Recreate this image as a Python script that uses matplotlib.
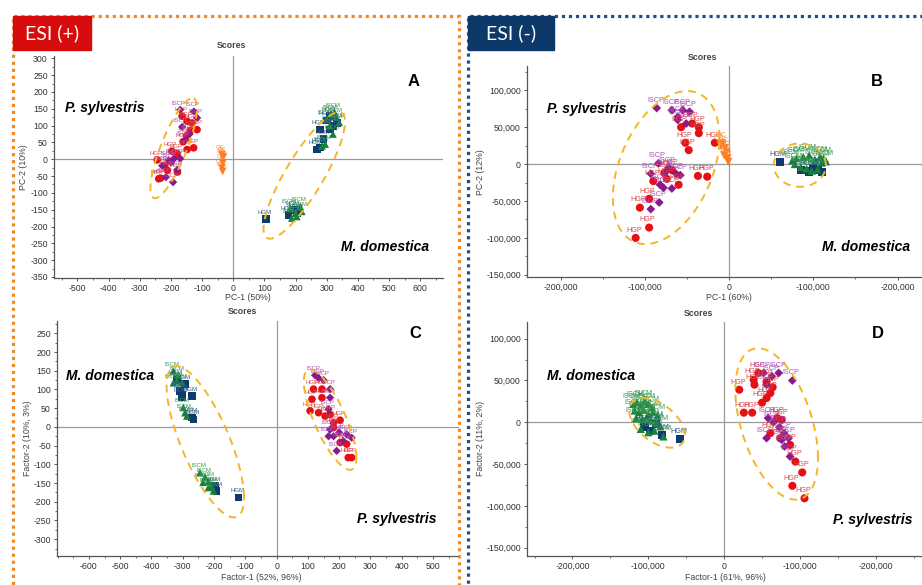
"""
Score plots (PCA / factor) of ESI(+) and ESI(-) data, four panels A-D.
"""

import numpy as np
import matplotlib
matplotlib.use("Agg")
import matplotlib.pyplot as plt
from matplotlib.patches import Rectangle
from matplotlib.ticker import AutoMinorLocator

plt.rcParams["font.family"] = ["Liberation Sans", "DejaVu Sans"]
plt.rcParams["axes.unicode_minus"] = False

# ---- panel A (ESI+, PCA) ----
A_HGP_x = [-132, -138, -161, -148, -127, -197, -180, -239, -233, -211, -179, -244, -164, -148, -116, -150, -220]
A_HGP_y = [108, 86, 52, 29, 34, 24, 17, -58, -56, -33, -38, -2, 128, 113, 88, 70, -20]
A_ISCP_x = [-164, -116, -216, -193, -180, -207, -190, -170, -228, -154, -170, -126, -200, -140]
A_ISCP_y = [96, 123, -53, -68, -32, -4, 2, 2, -19, 58, 147, 142, -10, 75]
A_QC_x = [-36, -33, -33, -36, -34, -32]
A_QC_y = [14, 4, -11, -26, -36, 8]
A_HGM_x = [279, 311, 322, 268, 278, 332, 311, 105, 177, 205, 195, 290, 300]
A_HGM_y = [88, 88, 98, 29, 35, 108, 129, -177, -165, -160, -150, 60, 115]
A_ISCM_x = [315, 330, 340, 300, 325, 310, 320, 285, 295, 188, 204, 220, 215, 183, 200]
A_ISCM_y = [135, 125, 110, 120, 140, 100, 75, 40, 45, -175, -170, -155, -140, -145, -160]

# ---- panel B (ESI-, PCA), values in thousands ----
B_HGP_x = [-57, -36, -36, -52, -48, -17, -37, -26, -60, -74, -90, -95, -106, -95, -111, -68, -77, -44]
B_HGP_y = [50, 50, 42, 29, 19, 29, -16, -17, -28, -20, -23, -47, -59, -86, -100, -8, -12, 55]
B_ISCP_x = [-86, -61, -51, -61, -68, -55, -47, -82, -78, -68, -83, -93, -93, -84, -75, -63, -58, -72]
B_ISCP_y = [76, 60, 55, 64, 73, 73, 71, -28, -32, -33, -52, -61, -13, 1, -10, -13, -15, -5]
B_QC_x = [-8, -5, -3, -6, -2, -1, -10]
B_QC_y = [28, 22, 16, 12, 8, 3, 25]
B_HGM_x = [60, 85, 95, 105, 110, 100]
B_HGM_y = [3, -8, -10, -8, -11, -5]
B_ISCM_x = [75, 80, 88, 95, 102, 108, 112, 115, 92, 98, 85, 105, 78, 110]
B_ISCM_y = [5, 8, 10, 12, 6, 10, 8, 4, -6, -9, -4, -7, 0, 2]

# ---- panel C (ESI+, factor) ----
C_HGP_x = [118, 145, 113, 145, 134, 155, 171, 182, 203, 203, 224, 229, 240, 107, 182]
C_HGP_y = [101, 101, 74, 78, 38, 29, 33, 11, 18, -42, -46, -82, -82, 43, -2]
C_ISCP_x = [123, 150, 171, 171, 166, 171, 166, 224, 192, 213, 240, 182, 135, 200]
C_ISCP_y = [138, 125, 101, 78, 47, -7, -25, -20, -64, -38, -29, -25, 130, -15]
C_HGM_x = [-309, -303, -271, -303, -271, -266, -319, -293, -197, -192, -122]
C_HGM_y = [96, 87, 83, 80, 25, 20, 128, 114, -158, -171, -189]
C_ISCM_x = [-330, -314, -319, -303, -330, -293, -287, -298, -245, -229, -218, -208, -202, -235, -218]
C_ISCM_y = [150, 137, 123, 118, 118, 38, 29, 52, -122, -134, -145, -158, -171, -148, -162]

# ---- panel D (ESI-, factor), values in thousands ----
D_HGP_x = [20, 26, 37, 39, 40, 50, 56, 61, 64, 45, 70, 61, 74, 87, 94, 103, 90, 106, 56, 76]
D_HGP_y = [39, 11.5, 11.5, 51, 45, 23.5, 29, 35, 42, 59, 5, -13, -19, -27, -47, -60, -76, -91, 49, 3]
D_ISCP_x = [90, 52, 63, 72, 56, 58, 65, 56, 76, 80, 87, 73, 79, 85]
D_ISCP_y = [50, 59, 55, 59, 45, 5, 0, -19, -21, -29, -41, -6, -13, -19]
D_HGM_x = [-58, -98, -82, -105, -90]
D_HGM_y = [-20, -10, -15, -5, -2]
D_ISCM_x = [-120, -115, -110, -105, -100, -95, -118, -112, -106, -100, -94, -88, -116, -108, -102, -96, -90, -84, -80, -110, -100, -92]
D_ISCM_y = [22, 24, 20, 25, 22, 18, 14, 12, 15, 10, 12, 8, 5, 4, 6, 2, 0, -5, -17, -8, -12, -10]

# confidence ellipses: centre, conjugate half-axis U, conjugate half-axis V
A_ELL = [((-191, 33), (64, 148), (38.6, -14.4)), ((228, -48), (120, 186), (52, -29))]
B_ELL = [((-74.8, -4.7), (63.3, 40.7), (0, 95.4)), ((84, -1.4), (30.9, 0), (0, 29.4))]
C_ELL = [((-228, -40), (123.8, -149.2), (0, 136.1)), ((171, 19), (84.1, -101.6), (0, 86.9))]
D_ELL = [((-88.4, -0.8), (36.8, -14.5), (0, 25.8)), ((69.3, -2), (54.5, -40.8), (0, 80.9))]

# group -> marker, marker colour, label colour
STYLE = {
    "HGP": ("o", "#e50f14", "#d9474a"),
    "ISCP": ("D", "#8a1a8c", "#b04fb6"),
    "QC": ("v", "#ff7a1f", "#ff8a3a"),
    "HGM": ("s", "#0d3b6e", "#2d5c8e"),
    "ISCM": ("^", "#17803a", "#3b9a52"),
}

W, H = 922, 585
fig = plt.figure(figsize=(W / 100, H / 100), dpi=100)


def fx(px):
    return px / W


def fy(py):
    return 1 - py / H


def axes_px(left, top, right, bottom):
    return fig.add_axes([fx(left), fy(bottom), (right - left) / W, (bottom - top) / H])


def draw_panel(ax, groups, ellipses, scale, xlim, ylim, xticks, xlabels, yticks, ylabels, msize, lsize):
    for name, xs, ys in groups:
        marker, mc, lc = STYLE[name]
        xs = np.asarray(xs) * scale
        ys = np.asarray(ys) * scale
        s = msize * (0.6 if marker == "D" else 1.0)
        ax.scatter(xs, ys, marker=marker, s=s, color=mc, edgecolor="none", zorder=3)
        for x, y in zip(xs, ys):
            ax.annotate(name, (x, y), xytext=(-1, 3), textcoords="offset points",
                        fontsize=lsize, color=lc, ha="center", va="bottom", zorder=4)
    t = np.linspace(0, 2 * np.pi, 200)
    for (cx, cy), (ux, uy), (vx, vy) in ellipses:
        ex = (cx + ux * np.cos(t) + vx * np.sin(t)) * scale
        ey = (cy + uy * np.cos(t) + vy * np.sin(t)) * scale
        ax.plot(ex, ey, color="#f5b526", lw=1.4, ls=(0, (4, 3)), zorder=5)
    ax.axhline(0, color="#9a9a9a", lw=0.9, zorder=1)
    ax.axvline(0, color="#9a9a9a", lw=0.9, zorder=1)
    ax.set_xlim(*xlim)
    ax.set_ylim(*ylim)
    ax.set_xticks(xticks, xlabels)
    ax.set_yticks(yticks, ylabels)
    ax.xaxis.set_minor_locator(AutoMinorLocator(2))
    ax.yaxis.set_minor_locator(AutoMinorLocator(2))
    for side in ("top", "right"):
        ax.spines[side].set_visible(False)
    for side in ("left", "bottom"):
        ax.spines[side].set_color("#555555")
        ax.spines[side].set_linewidth(0.9)
    ax.tick_params(which="major", length=2.5, width=0.7, colors="#555555", labelsize=6.3,
                   labelcolor="#333333", pad=2)
    ax.tick_params(which="minor", length=1.5, width=0.6, colors="#555555")
    ax.patch.set_alpha(0)


def num_labels(vals):
    return [f"{v:,}" for v in vals]


# ---- frames and ESI tags ----
fig.patches.append(Rectangle((fx(13), fy(590)), (459 - 13) / W, (590 - 16) / H, transform=fig.transFigure,
                             fill=False, ec="#f08a24", lw=2.3, ls=(0, (1, 1.2)), capstyle="butt"))
fig.patches.append(Rectangle((fx(468), fy(590)), (930 - 468) / W, (590 - 16) / H, transform=fig.transFigure,
                             fill=False, ec="#1d4f8f", lw=2.3, ls=(0, (1, 1.2)), capstyle="butt"))
fig.patches.append(Rectangle((fx(13), fy(50)), 78 / W, 34 / H, transform=fig.transFigure,
                             color="#d60b0b", zorder=5))
fig.patches.append(Rectangle((fx(468), fy(50)), 86 / W, 34 / H, transform=fig.transFigure,
                             color="#0c396a", zorder=5))
fig.text(fx(52), fy(33), "ESI (+)", color="white", fontsize=14, family=["Lato", "DejaVu Sans"],
         ha="center", va="center", zorder=6)
fig.text(fx(511), fy(33), "ESI (-)", color="white", fontsize=14, family=["Lato", "DejaVu Sans"],
         ha="center", va="center", zorder=6)

# ---- panel A ----
axA = axes_px(54, 56, 443, 278)
draw_panel(axA,
           [("HGP", A_HGP_x, A_HGP_y), ("ISCP", A_ISCP_x, A_ISCP_y), ("QC", A_QC_x, A_QC_y),
            ("HGM", A_HGM_x, A_HGM_y), ("ISCM", A_ISCM_x, A_ISCM_y)],
           A_ELL, 1, (-575, 673), (-353, 307),
           list(range(-500, 601, 100)), [str(v) for v in range(-500, 601, 100)],
           list(range(-350, 301, 50)), [str(v) for v in range(-350, 301, 50)], 30, 4.3)

# ---- panel B ----
axB = axes_px(527, 66, 922, 277)
bx = [-200000, -100000, 0, 100000, 200000]
draw_panel(axB,
           [("HGP", B_HGP_x, B_HGP_y), ("ISCP", B_ISCP_x, B_ISCP_y), ("QC", B_QC_x, B_QC_y),
            ("HGM", B_HGM_x, B_HGM_y), ("ISCM", B_ISCM_x, B_ISCM_y)],
           B_ELL, 1000, (-240000, 229000), (-153000, 133000),
           bx, ["-200,000", "-100,000", "0", "-100,000", "-200,000"],
           list(range(-150000, 100001, 50000)), num_labels(range(-150000, 100001, 50000)), 34, 5.2)

# ---- panel C ----
axC = axes_px(57, 321, 459, 556)
draw_panel(axC,
           [("HGP", C_HGP_x, C_HGP_y), ("ISCP", C_ISCP_x, C_ISCP_y),
            ("HGM", C_HGM_x, C_HGM_y), ("ISCM", C_ISCM_x, C_ISCM_y)],
           C_ELL, 1, (-702, 583), (-345, 283),
           list(range(-600, 501, 100)), [str(v) for v in range(-600, 501, 100)],
           list(range(-300, 251, 50)), [str(v) for v in range(-300, 251, 50)], 30, 4.3)

# ---- panel D ----
axD = axes_px(527, 322, 922, 556)
draw_panel(axD,
           [("HGP", D_HGP_x, D_HGP_y), ("ISCP", D_ISCP_x, D_ISCP_y),
            ("HGM", D_HGM_x, D_HGM_y), ("ISCM", D_ISCM_x, D_ISCM_y)],
           D_ELL, 1000, (-260000, 261000), (-160000, 120000),
           bx, ["-200,000", "-100,000", "0", "-100,000", "-200,000"],
           list(range(-150000, 100001, 50000)), num_labels(range(-150000, 100001, 50000)), 34, 5.2)

# ---- texts placed in figure pixels ----
lab = dict(color="#444444", fontsize=6.3, ha="center", va="center")
fig.text(fx(231), fy(46), "Scores", weight="bold", **lab)
fig.text(fx(702), fy(58), "Scores", weight="bold", **lab)
fig.text(fx(242), fy(312), "Scores", weight="bold", **lab)
fig.text(fx(698), fy(314), "Scores", weight="bold", **lab)

fig.text(fx(248), fy(297), "PC-1 (50%)", **lab)
fig.text(fx(24), fy(167), "PC-2 (10%)", rotation=90, **lab)
fig.text(fx(729), fy(297), "PC-1 (60%)", **lab)
fig.text(fx(480), fy(172), "PC-2 (12%)", rotation=90, **lab)
fig.text(fx(261), fy(577), "Factor-1 (52%, 96%)", **lab)
fig.text(fx(27), fy(438), "Factor-2 (10%, 3%)", rotation=90, **lab)
fig.text(fx(725), fy(578), "Factor-1 (61%, 96%)", **lab)
fig.text(fx(480), fy(438), "Factor-2 (11%, 2%)", rotation=90, **lab)

big = dict(color="black", fontsize=12, weight="bold", ha="center", va="center")
fig.text(fx(414), fy(82), "A", **big)
fig.text(fx(877), fy(81), "B", **big)
fig.text(fx(415), fy(333), "C", **big)
fig.text(fx(878), fy(333), "D", **big)

sp = dict(color="black", fontsize=10, weight="bold", style="italic", va="center")
fig.text(fx(65), fy(108), "P. sylvestris", ha="left", **sp)
fig.text(fx(429), fy(247), "M. domestica", ha="right", **sp)
fig.text(fx(547), fy(109), "P. sylvestris", ha="left", **sp)
fig.text(fx(910), fy(247), "M. domestica", ha="right", **sp)
fig.text(fx(66), fy(376), "M. domestica", ha="left", **sp)
fig.text(fx(436), fy(519), "P. sylvestris", ha="right", **sp)
fig.text(fx(547), fy(376), "M. domestica", ha="left", **sp)
fig.text(fx(912), fy(520), "P. sylvestris", ha="right", **sp)

fig.savefig("out.png", dpi=100)
